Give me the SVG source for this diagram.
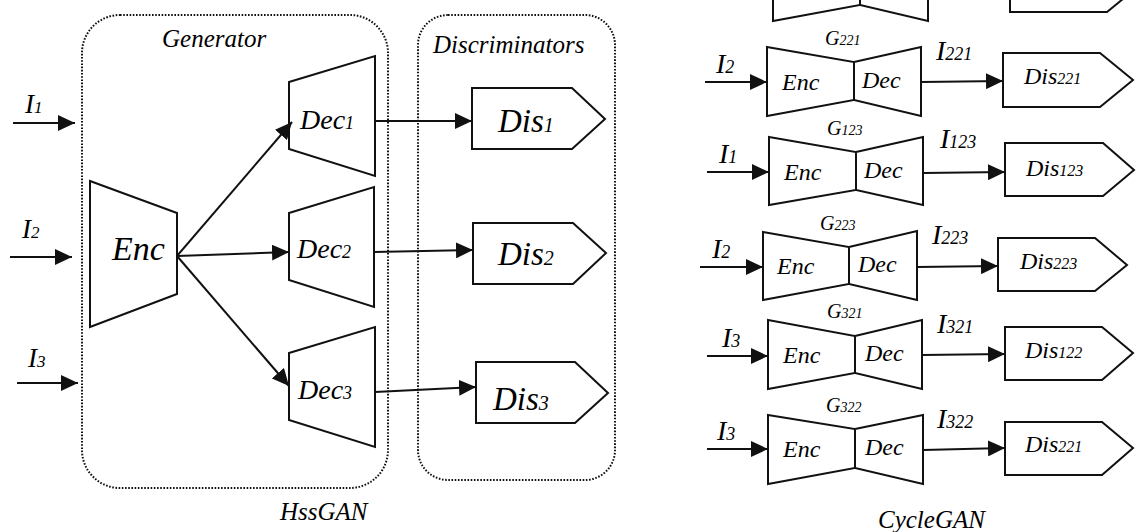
<svg xmlns="http://www.w3.org/2000/svg" width="1136" height="532" viewBox="0 0 1136 532">
  <style>
    .shape { fill: #ffffff; stroke: #111111; stroke-width: 2; }
    .frame { fill: none; stroke: #111111; stroke-width: 2; stroke-dasharray: 1.6 1.6; }
    .wire { fill: none; stroke: #111111; stroke-width: 2; }
  </style>
  <defs>
    <marker id="arrow" markerUnits="userSpaceOnUse" markerWidth="18" markerHeight="16" refX="17" refY="8" orient="auto">
      <path d="M0,0 L17,8 L0,16 z" fill="#111111"/>
    </marker>
  </defs>

  <!-- HssGAN: dotted grouping frames -->
  <g id="generator-frame">
    <rect class="frame" x="82" y="15" width="306" height="473" rx="38" ry="38"/>
    <text x="162" y="47" font-family="Times New Roman" font-style="italic" font-size="25">Generator</text>
  </g>
  <g id="discriminators-frame">
    <rect class="frame" x="418" y="15" width="197" height="465" rx="30" ry="30"/>
    <text x="433" y="53" font-family="Times New Roman" font-style="italic" font-size="25">Discriminators</text>
  </g>

  <!-- HssGAN inputs -->
  <g id="hss-in1"><text x="25" y="113" font-family="Times New Roman" font-style="italic" font-size="27">I<tspan font-size="17">1</tspan></text></g>
  <g id="hss-in2"><text x="22" y="238" font-family="Times New Roman" font-style="italic" font-size="27">I<tspan font-size="17">2</tspan></text></g>
  <g id="hss-in3"><text x="28" y="367" font-family="Times New Roman" font-style="italic" font-size="27">I<tspan font-size="17">3</tspan></text></g>

  <!-- HssGAN shared encoder, three decoders, three discriminators -->
  <g id="hss-enc">
    <polygon class="shape" points="90,181 177,213 177,294 90,327"/>
    <text x="112" y="260" font-family="Times New Roman" font-style="italic" font-size="34">Enc</text>
  </g>
  <g id="hss-dec1">
    <polygon class="shape" points="289,82 375,56 375,176 289,149"/>
    <text x="300" y="129" font-family="Times New Roman" font-style="italic" font-size="28">Dec<tspan font-size="18">1</tspan></text>
  </g>
  <g id="hss-dec2">
    <polygon class="shape" points="289,213 374,187 374,307 289,280"/>
    <text x="297" y="258" font-family="Times New Roman" font-style="italic" font-size="28">Dec<tspan font-size="18">2</tspan></text>
  </g>
  <g id="hss-dec3">
    <polygon class="shape" points="289,353 375,327 375,447 289,420"/>
    <text x="298" y="399" font-family="Times New Roman" font-style="italic" font-size="28">Dec<tspan font-size="18">3</tspan></text>
  </g>
  <g id="hss-dis1">
    <polygon class="shape" points="472,88 572,88 605,119 572,149 472,149"/>
    <text x="498" y="132" font-family="Times New Roman" font-style="italic" font-size="33">Dis<tspan font-size="20">1</tspan></text>
  </g>
  <g id="hss-dis2">
    <polygon class="shape" points="473,223 573,223 606,253 573,284 473,284"/>
    <text x="498" y="265" font-family="Times New Roman" font-style="italic" font-size="33">Dis<tspan font-size="20">2</tspan></text>
  </g>
  <g id="hss-dis3">
    <polygon class="shape" points="476,362 575,362 608,393 575,423 476,423"/>
    <text x="493" y="410" font-family="Times New Roman" font-style="italic" font-size="33">Dis<tspan font-size="20">3</tspan></text>
  </g>
  <text x="280" y="520" font-family="Times New Roman" font-style="italic" font-size="25">HssGAN</text>

  <!-- CycleGAN: row cut off at the top edge -->
  <g id="cyc-partial">
    <polygon class="shape" points="773,-48 860,-33 860,5 773,21"/>
    <polygon class="shape" points="860,-33 928,-48 928,21 860,5"/>
    <polygon class="shape" points="1010,-42 1107,-42 1140,-15 1107,12 1010,12"/>
  </g>

  <g id="cyc-g221">
    <polygon class="shape" points="767,47 854,62 854,100 767,116"/>
    <polygon class="shape" points="854,62 921,47 921,116 854,100"/>
    <text x="825" y="45" font-family="Times New Roman" font-style="italic" font-size="20">G<tspan font-size="14">221</tspan></text>
    <text x="782" y="90" font-family="Times New Roman" font-style="italic" font-size="24">Enc</text>
    <text x="862" y="88" font-family="Times New Roman" font-style="italic" font-size="24">Dec</text>
    <text x="716" y="73" font-family="Times New Roman" font-style="italic" font-size="28">I<tspan font-size="18">2</tspan></text>
    <text x="936" y="60" font-family="Times New Roman" font-style="italic" font-size="28">I<tspan font-size="18">221</tspan></text>
  </g>
  <g id="cyc-dis221a">
    <polygon class="shape" points="1003,53 1100,53 1133,80 1100,107 1003,107"/>
    <text x="1024" y="84" font-family="Times New Roman" font-style="italic" font-size="24">Dis<tspan font-size="16">221</tspan></text>
  </g>

  <g id="cyc-g123">
    <polygon class="shape" points="769,137 856,152 856,190 769,205"/>
    <polygon class="shape" points="856,152 923,137 923,205 856,190"/>
    <text x="827" y="135" font-family="Times New Roman" font-style="italic" font-size="20">G<tspan font-size="14">123</tspan></text>
    <text x="784" y="180" font-family="Times New Roman" font-style="italic" font-size="24">Enc</text>
    <text x="864" y="178" font-family="Times New Roman" font-style="italic" font-size="24">Dec</text>
    <text x="719" y="163" font-family="Times New Roman" font-style="italic" font-size="28">I<tspan font-size="18">1</tspan></text>
    <text x="940" y="148" font-family="Times New Roman" font-style="italic" font-size="28">I<tspan font-size="18">123</tspan></text>
  </g>
  <g id="cyc-dis123">
    <polygon class="shape" points="1005,143 1103,143 1134,170 1103,196 1005,196"/>
    <text x="1026" y="176" font-family="Times New Roman" font-style="italic" font-size="24">Dis<tspan font-size="16">123</tspan></text>
  </g>

  <g id="cyc-g223">
    <polygon class="shape" points="763,232 849,247 849,284 763,300"/>
    <polygon class="shape" points="849,247 917,231 917,300 849,284"/>
    <text x="820" y="230" font-family="Times New Roman" font-style="italic" font-size="20">G<tspan font-size="14">223</tspan></text>
    <text x="777" y="274" font-family="Times New Roman" font-style="italic" font-size="24">Enc</text>
    <text x="858" y="272" font-family="Times New Roman" font-style="italic" font-size="24">Dec</text>
    <text x="712" y="258" font-family="Times New Roman" font-style="italic" font-size="28">I<tspan font-size="18">2</tspan></text>
    <text x="932" y="244" font-family="Times New Roman" font-style="italic" font-size="28">I<tspan font-size="18">223</tspan></text>
  </g>
  <g id="cyc-dis223">
    <polygon class="shape" points="998,238 1095,238 1127,265 1095,291 998,291"/>
    <text x="1020" y="269" font-family="Times New Roman" font-style="italic" font-size="24">Dis<tspan font-size="16">223</tspan></text>
  </g>

  <g id="cyc-g321">
    <polygon class="shape" points="768,320 855,336 855,373 768,389"/>
    <polygon class="shape" points="855,336 922,320 922,389 855,373"/>
    <text x="827" y="318" font-family="Times New Roman" font-style="italic" font-size="20">G<tspan font-size="14">321</tspan></text>
    <text x="783" y="363" font-family="Times New Roman" font-style="italic" font-size="24">Enc</text>
    <text x="865" y="361" font-family="Times New Roman" font-style="italic" font-size="24">Dec</text>
    <text x="722" y="347" font-family="Times New Roman" font-style="italic" font-size="28">I<tspan font-size="18">3</tspan></text>
    <text x="937" y="333" font-family="Times New Roman" font-style="italic" font-size="28">I<tspan font-size="18">321</tspan></text>
  </g>
  <g id="cyc-dis122">
    <polygon class="shape" points="1005,327 1102,327 1133,353 1102,380 1005,380"/>
    <text x="1025" y="358" font-family="Times New Roman" font-style="italic" font-size="24">Dis<tspan font-size="16">122</tspan></text>
  </g>

  <g id="cyc-g322">
    <polygon class="shape" points="768,415 855,429 855,468 768,484"/>
    <polygon class="shape" points="855,429 923,415 923,484 855,468"/>
    <text x="826" y="412" font-family="Times New Roman" font-style="italic" font-size="20">G<tspan font-size="14">322</tspan></text>
    <text x="783" y="457" font-family="Times New Roman" font-style="italic" font-size="24">Enc</text>
    <text x="865" y="455" font-family="Times New Roman" font-style="italic" font-size="24">Dec</text>
    <text x="717" y="440" font-family="Times New Roman" font-style="italic" font-size="28">I<tspan font-size="18">3</tspan></text>
    <text x="937" y="428" font-family="Times New Roman" font-style="italic" font-size="28">I<tspan font-size="18">322</tspan></text>
  </g>
  <g id="cyc-dis221b">
    <polygon class="shape" points="1005,422 1102,422 1133,448 1102,475 1005,475"/>
    <text x="1025" y="452" font-family="Times New Roman" font-style="italic" font-size="24">Dis<tspan font-size="16">221</tspan></text>
  </g>
  <text x="878" y="528" font-family="Times New Roman" font-style="italic" font-size="25">CycleGAN</text>

  <!-- connectors -->
  <g id="connectors" class="wire" marker-end="url(#arrow)">
    <line x1="13" y1="123" x2="75" y2="123"/>
    <line x1="10" y1="257" x2="72" y2="257"/>
    <line x1="17" y1="383" x2="78" y2="383"/>
    <line x1="177" y1="256" x2="292" y2="122"/>
    <line x1="177" y1="256" x2="289" y2="252"/>
    <line x1="177" y1="256" x2="289" y2="386"/>
    <line x1="375" y1="121" x2="472" y2="121"/>
    <line x1="374" y1="252" x2="473" y2="250"/>
    <line x1="375" y1="392" x2="476" y2="387"/>

    <line x1="705" y1="82" x2="767" y2="82"/>
    <line x1="921" y1="82" x2="1003" y2="81"/>
    <line x1="707" y1="172" x2="769" y2="172"/>
    <line x1="923" y1="173" x2="1005" y2="172"/>
    <line x1="700" y1="267" x2="763" y2="267"/>
    <line x1="917" y1="267" x2="998" y2="266"/>
    <line x1="707" y1="356" x2="768" y2="356"/>
    <line x1="922" y1="355" x2="1005" y2="354"/>
    <line x1="707" y1="449" x2="768" y2="449"/>
    <line x1="923" y1="450" x2="1005" y2="448"/>
  </g>
</svg>
